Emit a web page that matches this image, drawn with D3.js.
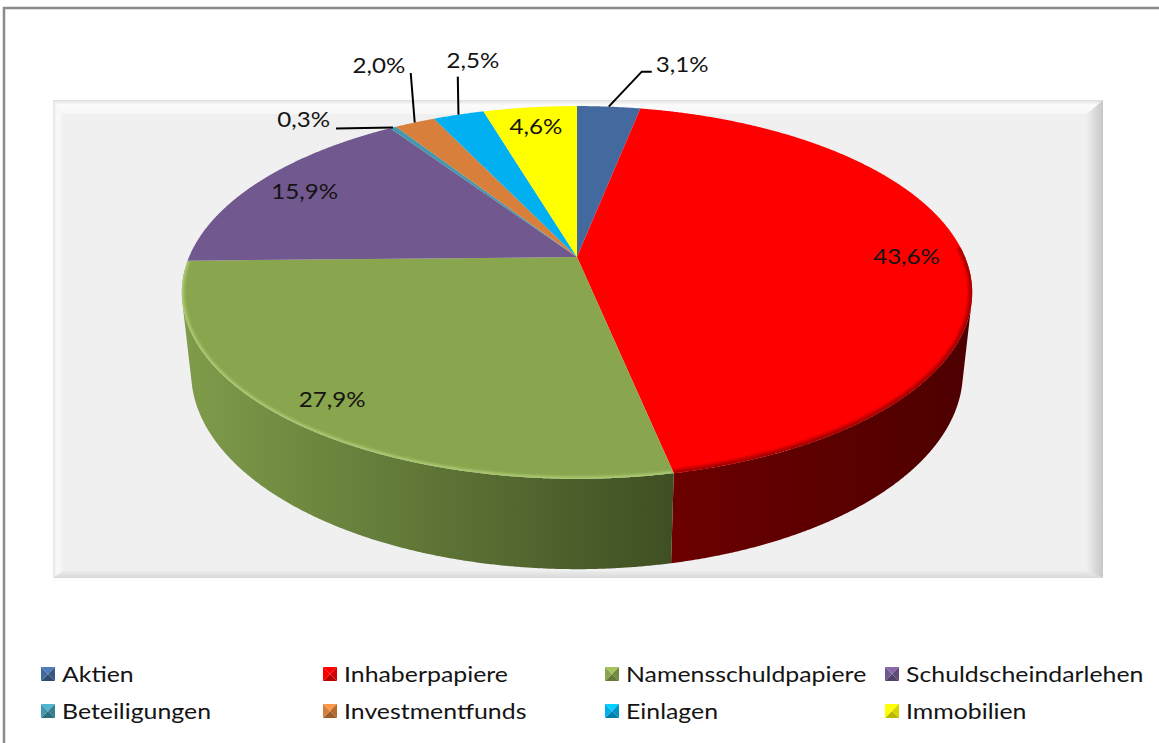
<!DOCTYPE html>
<html><head><meta charset="utf-8">
<script src="https://cdn.jsdelivr.net/npm/d3@7"></script>
<style>
body{margin:0;background:#fff;}
svg{display:block;}
text{font-family:Lato, "Open Sans", sans-serif; fill:#141414;}
</style></head>
<body>
<script>
// ---- data ----
const categories = ["Aktien","Inhaberpapiere","Namensschuldpapiere","Schuldscheindarlehen","Beteiligungen","Investmentfunds","Einlagen","Immobilien"];
const values = [3.1, 43.6, 27.9, 15.9, 0.3, 2.0, 2.5, 4.6];
const valueLabels = ["3,1%","43,6%","27,9%","15,9%","0,3%","2,0%","2,5%","4,6%"];
const colors = ["#44699e","#ff0000","#89a54e","#71588f","#4198af","#d77f3b","#00b0f0","#ffff00"];

// ---- layout ----
const W = 1159, H = 743;
const svg = d3.select("body").append("svg").attr("width", W).attr("height", H);
const defs = svg.append("defs");

// stretched text helper (reference font renders wide)
function stext(g, x, y, str, size, sx, anchor, dy){
  return g.append("text").attr("transform",`translate(${x},${y}) scale(${sx},1)`)
    .attr("text-anchor",anchor).attr("dy",dy||null).attr("font-size",size).text(str);
}

// outer frame
svg.append("path").attr("d", `M4,${H} L4,8 L${W},8`).attr("fill","none").attr("stroke","#8a8a8a").attr("stroke-width",2.5);

// plot area with bevel
const pa = {x0:53, y0:100, x1:1103, y1:578};
svg.append("rect").attr("x",pa.x0).attr("y",pa.y0).attr("width",pa.x1-pa.x0).attr("height",pa.y1-pa.y0).attr("fill","#f0f0f0");
function lg(id, x1,y1,x2,y2, stops){
  const g = defs.append("linearGradient").attr("id",id).attr("x1",x1).attr("y1",y1).attr("x2",x2).attr("y2",y2);
  stops.forEach(s=>g.append("stop").attr("offset",s[0]).attr("stop-color",s[1]));
}
lg("bvTop",0,0,0,1,[[0,"#dedede"],[0.35,"#fbfbfb"],[1,"#f7f7f7"]]);
lg("bvRight",0,0,1,0,[[0,"#eeeeee"],[0.6,"#d6d6d6"],[1,"#c8c8c8"]]);
lg("bvLeft",0,0,1,0,[[0,"#e4e4e4"],[0.4,"#fafafa"],[1,"#f2f2f2"]]);
lg("bvBot",0,0,0,1,[[0,"#ececec"],[1,"#d8d8d8"]]);
const bt=14, br=16, bl=10, bb=7;
svg.append("polygon").attr("points",`${pa.x0},${pa.y0} ${pa.x1},${pa.y0} ${pa.x1-br},${pa.y0+bt} ${pa.x0+bl},${pa.y0+bt}`).attr("fill","url(#bvTop)");
svg.append("polygon").attr("points",`${pa.x1},${pa.y0} ${pa.x1},${pa.y1} ${pa.x1-br},${pa.y1-bb} ${pa.x1-br},${pa.y0+bt}`).attr("fill","url(#bvRight)");
svg.append("polygon").attr("points",`${pa.x0},${pa.y0} ${pa.x0+bl},${pa.y0+bt} ${pa.x0+bl},${pa.y1-bb} ${pa.x0},${pa.y1}`).attr("fill","url(#bvLeft)");
svg.append("polygon").attr("points",`${pa.x0},${pa.y1} ${pa.x0+bl},${pa.y1-bb} ${pa.x1-br},${pa.y1-bb} ${pa.x1},${pa.y1}`).attr("fill","url(#bvBot)");

// ---- 3D pie projection ----
const P = {cx:577, cy:257, F:1808, L:4.66, sinP:0.463, cosP:0.886, depth:0.234};
function proj(theta, r, down){
  const X = r*Math.sin(theta), Z = r*Math.cos(theta), Y = -down*P.depth;
  const v = Z*P.sinP + Y*P.cosP, w = Z*P.cosP - Y*P.sinP;
  const s = P.F/(P.L + w);
  return [P.cx + X*s, P.cy - v*s];
}
const arcs = d3.pie().sort(null).value(d=>d)(values);
const line = d3.line();
const step = Math.PI/720;
function rim(a0, a1, down){
  const pts = [];
  const n = Math.max(2, Math.ceil((a1-a0)/step));
  for(let i=0;i<=n;i++){ pts.push(proj(a0+(a1-a0)*i/n, 1, down)); }
  return pts;
}
const kVis = 1/(P.L*P.cosP);
const vis0 = Math.acos(-kVis), vis1 = 2*Math.PI - vis0;

// side walls
const gWall = svg.append("g");
arcs.forEach((a,i)=>{
  const b0 = Math.max(a.startAngle, vis0), b1 = Math.min(a.endAngle, vis1);
  if(b1 <= b0) return;
  const top = rim(b0,b1,0), bot = rim(b0,b1,1).reverse();
  const xs = top.map(p=>p[0]).concat(bot.map(p=>p[0]));
  const xmin = d3.min(xs), xmax = d3.max(xs);
  const c = d3.color(colors[i]);
  const id = "wall"+i;
  const g = defs.append("linearGradient").attr("id",id).attr("gradientUnits","userSpaceOnUse")
    .attr("x1", xmin).attr("y1",0).attr("x2",xmax).attr("y2",0);
  let s0, s1;
  if(i===1){ s0="#6c0000"; s1="#4d0000"; }
  else if(i===2){ s0="#7f9c4a"; s1="#3f4f23"; }
  else { s0=c.darker(0.6).formatHex(); s1=c.darker(1.2).formatHex(); }
  g.append("stop").attr("offset",0).attr("stop-color",s0);
  g.append("stop").attr("offset",1).attr("stop-color",s1);
  gWall.append("path").attr("d", line(top.concat(bot))+"Z").attr("fill",`url(#${id})`);
});

// top faces
const gTop = svg.append("g");
const blur = defs.append("filter").attr("id","bblur").attr("x","-10%").attr("y","-10%").attr("width","120%").attr("height","120%");
blur.append("feGaussianBlur").attr("stdDeviation",1.6);
arcs.forEach((a,i)=>{
  const pts = [proj(0,0,0)].concat(rim(a.startAngle,a.endAngle,0));
  const d = line(pts)+"Z";
  defs.append("clipPath").attr("id","clip"+i).append("path").attr("d",d);
  gTop.append("path").attr("d",d).attr("fill",colors[i]);
});
// soft bevel along the front rim
arcs.forEach((a,i)=>{
  const b0 = Math.max(a.startAngle, vis0-0.3), b1 = Math.min(a.endAngle, vis1+0.3);
  if(b1 <= b0) return;
  let col, wdt;
  if(i===1){ col="#a80000"; wdt=7; }
  else if(i===2){ col="#b2cf78"; wdt=4; }
  else return;
  gTop.append("g").attr("clip-path",`url(#clip${i})`)
    .append("path").attr("d", line(rim(b0,b1,0))).attr("fill","none")
    .attr("stroke",col).attr("stroke-width",wdt).attr("filter","url(#bblur)");
});

// ---- data labels ----
const labelSize = 21, labelStretch = 1.15;
const gLab = svg.append("g");
const inside = [1,2,3,7];
inside.forEach(i=>{
  const a = arcs[i];
  const mid = (a.startAngle+a.endAngle)/2;
  const r = i===2 ? 0.88 : 0.85;
  const p = proj(mid, r, 0);
  stext(gLab, p[0], p[1], valueLabels[i], labelSize, labelStretch, "middle", "0.35em");
});
// outside labels with leader lines (offsets relative to rim point at mid angle)
const outside = {
  0: {leader:[[0,0],[33,-35],[43,-35]], tx:47, ty:-35, anchor:"start"},
  4: {leader:[[0,0],[-57,1]], tx:-63, ty:-0.5, anchor:"end"},
  5: {leader:[[0,0],[-4,-49.5]], tx:-9.5, ty:-49.5, anchor:"end"},
  6: {leader:[[0,0],[-0.7,-38]], tx:-12, ty:-46.5, anchor:"start"}
};
Object.keys(outside).forEach(k=>{
  const i = +k, o = outside[k], a = arcs[i];
  const mid = (a.startAngle+a.endAngle)/2;
  const p = proj(mid, 1, 0);
  gLab.append("path").attr("d", line(o.leader.map(q=>[p[0]+q[0], p[1]+q[1]])))
    .attr("fill","none").attr("stroke","#000").attr("stroke-width",2);
  stext(gLab, p[0]+o.tx, p[1]+o.ty, valueLabels[i], labelSize, labelStretch, o.anchor, null);
});

// ---- legend ----
const gLeg = svg.append("g");
const colX = [41, 323, 605, 885], rowY = [674, 711];
const sq = 14;
categories.forEach((name,i)=>{
  const x = colX[i%4], y = rowY[Math.floor(i/4)];
  const c = d3.color(colors[i]);
  const x0=x, y0=y-sq/2, x1=x+sq, y1=y+sq/2, mx=x+sq/2, my=y;
  const tris = [
    [[x0,y0],[x1,y0],[mx,my], c.brighter(0.5)],
    [[x1,y0],[x1,y1],[mx,my], c.darker(0.5)],
    [[x1,y1],[x0,y1],[mx,my], c.darker(0.9)],
    [[x0,y1],[x0,y0],[mx,my], c]
  ];
  tris.forEach(t=>gLeg.append("polygon").attr("points",`${t[0]} ${t[1]} ${t[2]}`).attr("fill",t[3]));
  stext(gLeg, x+21, y, name, 22, 1.13, "start", "0.36em");
});
</script>
</body></html>
